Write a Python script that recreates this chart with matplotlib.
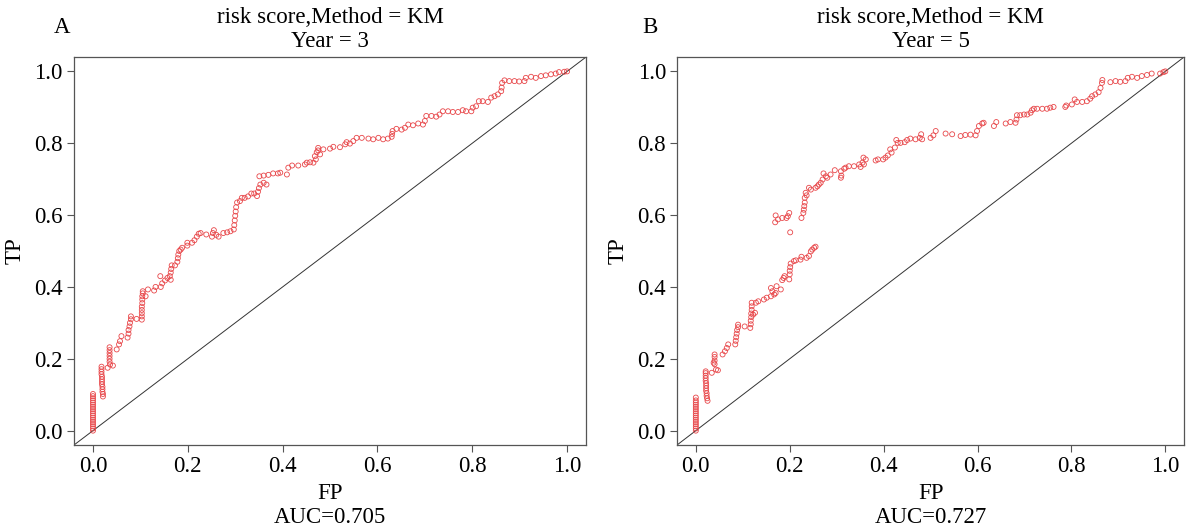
import matplotlib
matplotlib.use('Agg')
import matplotlib.pyplot as plt

plt.rcParams['font.family'] = ['Liberation Serif', 'DejaVu Serif']

# --- Year 3 ROC points (FP, TP) ---
fp_3 = [0.0] * 18 + [
    0.021, 0.021, 0.020, 0.020, 0.020, 0.019, 0.019, 0.019, 0.019, 0.018, 0.018, 0.018, 0.018,
    0.031, 0.036, 0.042, 0.035, 0.035, 0.035, 0.035, 0.035, 0.035,
    0.050, 0.055, 0.057, 0.060, 0.073, 0.075, 0.075, 0.077, 0.078, 0.080, 0.080, 0.092,
    0.103, 0.103, 0.103, 0.103, 0.103, 0.104, 0.104, 0.104, 0.105, 0.105,
    0.111, 0.116, 0.129, 0.132, 0.143, 0.142, 0.146, 0.152, 0.157, 0.162,
    0.164, 0.164, 0.165, 0.166, 0.173, 0.178, 0.179, 0.180, 0.182, 0.185, 0.188,
    0.199, 0.199, 0.209, 0.214, 0.219, 0.223, 0.227, 0.239, 0.251, 0.253, 0.255,
    0.260, 0.265, 0.275, 0.283, 0.290, 0.297, 0.298, 0.299, 0.300, 0.301, 0.302, 0.304,
    0.310, 0.314, 0.320, 0.327, 0.334, 0.340, 0.346, 0.348, 0.350, 0.353, 0.351,
    0.360, 0.360, 0.366, 0.370, 0.380, 0.390,
    0.395, 0.409, 0.412, 0.420, 0.433, 0.447, 0.451, 0.458, 0.465, 0.468, 0.470,
    0.472, 0.475, 0.479, 0.475, 0.486, 0.500, 0.507, 0.521, 0.532, 0.535, 0.542,
    0.549, 0.556, 0.567, 0.581, 0.591, 0.602, 0.612, 0.622, 0.630, 0.631, 0.632,
    0.640, 0.651, 0.658, 0.665, 0.675, 0.686, 0.696, 0.700, 0.703, 0.714, 0.724,
    0.731, 0.738, 0.749, 0.759, 0.770, 0.780, 0.787, 0.798, 0.801, 0.808, 0.814,
    0.822, 0.833, 0.840, 0.847, 0.854, 0.861, 0.862, 0.863, 0.868, 0.878, 0.889,
    0.899, 0.910, 0.913, 0.924, 0.934, 0.945, 0.955, 0.966, 0.976, 0.983, 0.994, 1.000]
tp_3 = [0.000, 0.006, 0.012, 0.018, 0.024, 0.030, 0.036, 0.042, 0.048, 0.054,
        0.060, 0.066, 0.072, 0.078, 0.084, 0.090, 0.096, 0.102] + [
    0.095, 0.102, 0.108, 0.115, 0.122, 0.129, 0.136, 0.143, 0.150, 0.157, 0.164, 0.171, 0.178,
    0.175, 0.184, 0.181, 0.192, 0.200, 0.208, 0.216, 0.224, 0.232,
    0.226, 0.240, 0.249, 0.263, 0.259, 0.270, 0.280, 0.290, 0.300, 0.310, 0.318, 0.311,
    0.309, 0.318, 0.327, 0.336, 0.345, 0.355, 0.365, 0.374, 0.382, 0.388,
    0.374, 0.393, 0.390, 0.400, 0.400, 0.430, 0.410, 0.418, 0.425, 0.430,
    0.420, 0.440, 0.450, 0.460, 0.460, 0.470, 0.480, 0.490, 0.500, 0.504, 0.509,
    0.523, 0.515, 0.523, 0.530, 0.540, 0.548, 0.550, 0.546, 0.540, 0.550, 0.558,
    0.545, 0.540, 0.550, 0.552, 0.555, 0.560, 0.572, 0.585, 0.598, 0.610, 0.622, 0.635,
    0.639, 0.648, 0.648, 0.652, 0.660, 0.660, 0.653, 0.665, 0.675, 0.685, 0.708,
    0.710, 0.690, 0.685, 0.712, 0.716, 0.716,
    0.718, 0.713, 0.732, 0.738, 0.738, 0.741, 0.746, 0.747, 0.746, 0.764, 0.755,
    0.775, 0.780, 0.769, 0.787, 0.783, 0.785, 0.790, 0.789, 0.797, 0.803, 0.799,
    0.806, 0.815, 0.815, 0.813, 0.811, 0.815, 0.811, 0.813, 0.818, 0.826, 0.834,
    0.840, 0.838, 0.843, 0.852, 0.850, 0.855, 0.852, 0.862, 0.876, 0.876, 0.874,
    0.880, 0.889, 0.889, 0.887, 0.887, 0.892, 0.889, 0.889, 0.899, 0.903, 0.917,
    0.917, 0.915, 0.927, 0.931, 0.936, 0.945, 0.955, 0.968, 0.975, 0.973, 0.973,
    0.972, 0.973, 0.982, 0.985, 0.982, 0.987, 0.989, 0.992, 0.994, 0.998, 0.999, 1.000]

# --- Year 5 ROC points (FP, TP) ---
fp_5 = [0.0] * 16 + [
    0.025, 0.024, 0.023, 0.023, 0.022, 0.022, 0.022, 0.022, 0.021, 0.021, 0.021, 0.021, 0.021,
    0.034, 0.038, 0.040, 0.043, 0.047, 0.040, 0.040, 0.040,
    0.057, 0.062, 0.066, 0.069, 0.084, 0.085, 0.086, 0.087, 0.088, 0.090, 0.090, 0.104,
    0.116, 0.117, 0.117, 0.118, 0.118, 0.119, 0.119, 0.119, 0.122, 0.126,
    0.128, 0.133, 0.145, 0.151, 0.160, 0.160, 0.163, 0.167, 0.170, 0.172, 0.181,
    0.184, 0.187, 0.189, 0.199, 0.200, 0.200, 0.201, 0.202, 0.209, 0.213, 0.223,
    0.225, 0.236, 0.241, 0.245, 0.248, 0.252, 0.255,
    0.169, 0.170, 0.175, 0.184, 0.193, 0.196, 0.199, 0.201,
    0.225, 0.229, 0.230, 0.231, 0.232, 0.232, 0.234, 0.236, 0.241, 0.245, 0.255,
    0.259, 0.262, 0.266, 0.270, 0.272, 0.277, 0.280, 0.287, 0.296, 0.309, 0.309,
    0.310, 0.316, 0.319, 0.326, 0.337, 0.348, 0.351, 0.355, 0.358, 0.357, 0.362,
    0.383, 0.388, 0.399, 0.404, 0.409, 0.414, 0.417, 0.424, 0.427, 0.430, 0.436,
    0.445, 0.450, 0.457, 0.468, 0.477, 0.480, 0.482, 0.500, 0.506, 0.511, 0.532,
    0.546, 0.564, 0.574, 0.585, 0.596, 0.599, 0.603, 0.610, 0.613, 0.635, 0.640,
    0.660, 0.670, 0.681, 0.683, 0.684, 0.691, 0.699, 0.706, 0.713, 0.716, 0.720,
    0.727, 0.738, 0.748, 0.755, 0.762, 0.787, 0.789, 0.801, 0.807, 0.812, 0.823,
    0.833, 0.840, 0.844, 0.851, 0.858, 0.862, 0.865, 0.866, 0.883, 0.894, 0.904,
    0.915, 0.920, 0.929, 0.940, 0.950, 0.961, 0.971, 0.989, 0.996, 1.000]
tp_5 = [0.000, 0.006, 0.012, 0.018, 0.024, 0.030, 0.036, 0.042, 0.048, 0.054,
        0.060, 0.066, 0.072, 0.078, 0.084, 0.092] + [
    0.083, 0.090, 0.097, 0.104, 0.111, 0.118, 0.125, 0.132, 0.139, 0.146, 0.153, 0.160, 0.165,
    0.161, 0.189, 0.212, 0.170, 0.168, 0.185, 0.195, 0.205,
    0.212, 0.221, 0.230, 0.240, 0.240, 0.250, 0.260, 0.270, 0.280, 0.288, 0.295, 0.290,
    0.286, 0.296, 0.306, 0.316, 0.326, 0.336, 0.346, 0.356, 0.323, 0.328,
    0.356, 0.360, 0.365, 0.370, 0.374, 0.397, 0.388, 0.379, 0.383, 0.402, 0.393,
    0.419, 0.425, 0.430, 0.421, 0.435, 0.445, 0.455, 0.465, 0.472, 0.474, 0.476,
    0.484, 0.481, 0.486, 0.499, 0.504, 0.509, 0.512,
    0.580, 0.599, 0.588, 0.592, 0.592, 0.597, 0.606, 0.552,
    0.592, 0.606, 0.615, 0.625, 0.635, 0.648, 0.662, 0.655, 0.676, 0.671, 0.676,
    0.680, 0.685, 0.690, 0.699, 0.716, 0.708, 0.704, 0.713, 0.725, 0.722, 0.704,
    0.710, 0.729, 0.732, 0.736, 0.736, 0.741, 0.734, 0.746, 0.741, 0.760, 0.755,
    0.752, 0.755, 0.755, 0.760, 0.766, 0.783, 0.774, 0.788, 0.809, 0.801, 0.801,
    0.803, 0.809, 0.813, 0.811, 0.815, 0.825, 0.811, 0.815, 0.822, 0.834, 0.827,
    0.825, 0.820, 0.823, 0.824, 0.822, 0.834, 0.848, 0.855, 0.857, 0.848, 0.859,
    0.855, 0.859, 0.857, 0.866, 0.878, 0.878, 0.880, 0.880, 0.885, 0.892, 0.896,
    0.896, 0.896, 0.896, 0.899, 0.901, 0.901, 0.905, 0.908, 0.922, 0.915, 0.915,
    0.917, 0.924, 0.931, 0.936, 0.942, 0.954, 0.968, 0.976, 0.970, 0.973, 0.971,
    0.973, 0.982, 0.985, 0.982, 0.987, 0.990, 0.994, 0.994, 0.998, 1.000]

panels = [
    ("A", 3, "AUC=0.705", fp_3, tp_3),
    ("B", 5, "AUC=0.727", fp_5, tp_5),
]
ticks = [0.0, 0.2, 0.4, 0.6, 0.8, 1.0]
tick_labels = ["0.0", "0.2", "0.4", "0.6", "0.8", "1.0"]

fig = plt.figure(figsize=(11.88, 5.29), dpi=100)
positions = [[0.0623, 0.1588, 0.431, 0.7334], [0.5699, 0.1588, 0.4268, 0.7334]]
letter_x = [-0.024, -0.053]

for pos, lx, (letter, year, auc, fp, tp) in zip(positions, letter_x, panels):
    ax = fig.add_axes(pos)
    ax.scatter(fp, tp, s=13, facecolors='none', edgecolors='#e8474a', linewidths=0.6, zorder=3)
    ax.axline((0, 0), (1, 1), color='#333333', lw=0.7)
    ax.set_xlim(-0.04, 1.04)
    ax.set_ylim(-0.04, 1.04)
    ax.set_xticks(ticks)
    ax.set_xticklabels(tick_labels)
    ax.set_yticks(ticks)
    ax.set_yticklabels(tick_labels)
    ax.tick_params(direction='out', length=5, width=0.8, color='#555555', labelsize=16.5, pad=3)
    for s in ax.spines.values():
        s.set_color('#555555')
        s.set_linewidth(0.9)
    ax.set_ylabel("TP", fontsize=16.5, labelpad=6)
    ax.text(0.5, -0.124, "FP", transform=ax.transAxes, ha='center', va='center', fontsize=16.5)
    ax.text(0.5, -0.186, auc, transform=ax.transAxes, ha='center', va='center', fontsize=16.5)
    ax.text(0.5, 1.103, "risk score,Method = KM", transform=ax.transAxes,
            ha='center', va='center', fontsize=16.5)
    ax.text(0.5, 1.039, f"Year = {year}", transform=ax.transAxes,
            ha='center', va='center', fontsize=16.5)
    ax.text(lx, 1.075, letter, transform=ax.transAxes, ha='center', va='center', fontsize=16.5)

fig.savefig("out.png", dpi=100)
plt.close(fig)
